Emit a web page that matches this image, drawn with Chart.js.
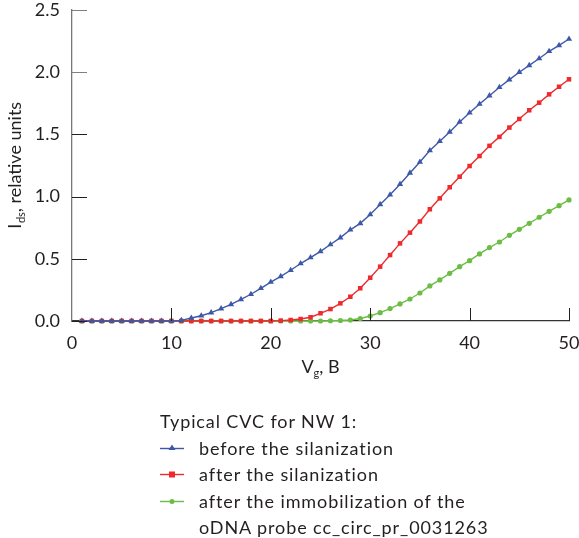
<!DOCTYPE html>
<html><head><meta charset="utf-8">
<script src="https://cdn.jsdelivr.net/npm/chart.js@4.4.1/dist/chart.umd.min.js"></script>
<style>
html,body{margin:0;padding:0;background:#fff;}
#wrap{position:relative;width:579px;height:538px;}
#c{position:absolute;left:0;top:0;}
#legend{position:absolute;left:160px;top:408px;font-family:Lato,sans-serif;font-size:18px;letter-spacing:0.9px;color:#231f20;line-height:26.5px;}
#legend .row{position:relative;padding-left:39px;white-space:nowrap;}
#legend .title{padding-left:0;}
#legend svg{position:absolute;left:0;top:6px;}
</style>
</head><body>
<div id="wrap">
<canvas id="c" width="579" height="538"></canvas>
<div id="legend"></div>
</div>
<script>
const vgValues = [1,2,3,4,5,6,7,8,9,10,11,12,13,14,15,16,17,18,19,20,21,22,23,24,25,26,27,28,29,30,31,32,33,34,35,36,37,38,39,40,41,42,43,44,45,46,47,48,49,50];
const beforeSilanization = [0,0,0,0,0,0,0,0,0,0,0.005,0.024,0.042,0.067,0.099,0.134,0.174,0.215,0.263,0.313,0.359,0.408,0.462,0.51,0.56,0.615,0.67,0.733,0.785,0.856,0.937,1.015,1.10,1.19,1.278,1.37,1.445,1.52,1.60,1.674,1.744,1.811,1.879,1.94,2.0,2.055,2.11,2.168,2.216,2.267];
const afterSilanization = [0,0,0,0,0,0,0,0,0,0,0,0,0,0,0,0,0,0,0,0,0.003,0.008,0.016,0.03,0.062,0.096,0.142,0.195,0.263,0.348,0.437,0.53,0.624,0.71,0.80,0.898,0.986,1.075,1.16,1.246,1.326,1.408,1.48,1.555,1.624,1.694,1.755,1.822,1.883,1.943];
const afterImmobilization = [0,0,0,0,0,0,0,0,0,0,0,0,0,0,0,0,0,0,0,0,0,0,0,0,0,0.002,0.004,0.008,0.02,0.04,0.067,0.10,0.137,0.177,0.225,0.282,0.33,0.383,0.437,0.485,0.539,0.59,0.635,0.689,0.737,0.785,0.834,0.882,0.927,0.973];
const xTicks = [0,10,20,30,40,50];
const yTicks = [0,0.5,1.0,1.5,2.0,2.5];
const legendTitle = "Typical CVC for NW 1:";
const seriesNames = ["before the silanization","after the silanization","after the immobilization of the\noDNA probe cc_circ_pr_0031263"];
const seriesColors = ["#3d58a7","#ee2a2e","#6cbd45"];
const seriesMarkers = ["triangle","rect","circle"];
const seriesSizes = [3.6,3.2,2.6];
const seriesData = [beforeSilanization, afterSilanization, afterImmobilization];

const FONT = "Lato, sans-serif";

const datasets = seriesData.map((arr,i)=>({
  label: seriesNames[i],
  data: vgValues.map((x,j)=>({x:x,y:arr[j]})),
  borderColor: seriesColors[i],
  backgroundColor: seriesColors[i],
  borderWidth: 1.4,
  pointStyle: seriesMarkers[i],
  pointRadius: seriesSizes[i],
  pointBorderWidth: 0,
  tension: 0,
  clip: false
}));

const customDraw = {
  id:'customDraw',
  afterDraw(chart){
    const ctx = chart.ctx;
    const xs = chart.scales.x, ys = chart.scales.y;
    const area = chart.chartArea;
    ctx.save();
    yTicks.forEach(v=>{
      const py = Math.round(ys.getPixelForValue(v))+0.5;
      ctx.strokeStyle = v>=2 ? '#808080' : '#231f20';
      ctx.lineWidth = 1;
      ctx.beginPath(); ctx.moveTo(area.left, py); ctx.lineTo(area.left+15, py); ctx.stroke();
    });
    xTicks.forEach(v=>{
      if (v===0) return;
      const px = Math.round(xs.getPixelForValue(v))+0.5;
      ctx.strokeStyle = '#231f20';
      ctx.lineWidth = 1;
      ctx.beginPath(); ctx.moveTo(px, area.bottom); ctx.lineTo(px, area.bottom-13); ctx.stroke();
    });
    ctx.fillStyle = '#231f20';
    ctx.textBaseline = 'alphabetic';
    const cx = (area.left+area.right)/2;
    const bY = 373;
    ctx.font = '18px '+FONT;
    const wV = ctx.measureText('V').width;
    ctx.font = '11px '+FONT;
    const wg = ctx.measureText('g').width;
    ctx.font = '18px '+FONT;
    const wR = ctx.measureText(', B').width;
    let sx = cx - (wV+wg+wR)/2;
    ctx.textAlign='left';
    ctx.fillText('V', sx, bY);
    ctx.font = '11px '+FONT;
    ctx.fillText('g', sx+wV, bY+4);
    ctx.font = '18px '+FONT;
    ctx.fillText(', B', sx+wV+wg, bY);
    const cy = (area.top+area.bottom)/2;
    ctx.translate(21, cy);
    ctx.rotate(-Math.PI/2);
    ctx.font = '18px '+FONT;
    const wI = ctx.measureText('I').width;
    ctx.font = '11px '+FONT;
    const wds = ctx.measureText('ds').width;
    ctx.font = '18px '+FONT;
    const wRest = ctx.measureText(', relative units').width;
    let tx = -(wI+wds+wRest)/2;
    ctx.fillText('I', tx, 0);
    ctx.font = '11px '+FONT;
    ctx.fillText('ds', tx+wI+0.5, 4);
    ctx.font = '18px '+FONT;
    ctx.fillText(', relative units', tx+wI+wds+0.5, 0);
    ctx.restore();
  }
};

new Chart(document.getElementById('c'), {
  type:'line',
  data:{datasets},
  options:{
    responsive:false,
    animation:false,
    devicePixelRatio:1,
    layout:{padding:{left:0,top:10,right:10,bottom:0}},
    plugins:{legend:{display:false},tooltip:{enabled:false}},
    scales:{
      x:{
        type:'linear', min:0, max:50,
        afterBuildTicks(s){ s.ticks = xTicks.map(v=>({value:v})); },
        afterFit(s){ s.height = 538-321; s.paddingLeft = 0; s.paddingRight = 0; },
        grid:{display:true,drawOnChartArea:false,drawTicks:false},
        border:{color:'#333',width:1.3},
        ticks:{padding:11,color:'#231f20',font:{family:FONT,size:18},maxRotation:0}
      },
      y:{
        type:'linear', min:0, max:2.5,
        afterBuildTicks(s){ s.ticks = yTicks.map(v=>({value:v})); },
        afterFit(s){ s.width = 72; s.paddingTop = 0; s.paddingBottom = 0; },
        grid:{display:true,drawOnChartArea:false,drawTicks:false},
        border:{color:'#777',width:1.3},
        ticks:{padding:12,color:'#231f20',font:{family:FONT,size:18},callback:v=>Number(v).toFixed(1)}
      }
    }
  },
  plugins:[customDraw]
});

const lg = document.getElementById('legend');
const t = document.createElement('div'); t.className='row title'; t.textContent = legendTitle; lg.appendChild(t);
seriesNames.forEach((name,i)=>{
  name.split('\n').forEach((line,k)=>{
    const r = document.createElement('div'); r.className='row';
    if(k===0){
      const c = seriesColors[i];
      let mk='';
      if(seriesMarkers[i]==='triangle') mk=`<polygon points="12,3.5 15.5,9 8.5,9" fill="${c}"/>`;
      else if(seriesMarkers[i]==='rect') mk=`<rect x="9" y="4.5" width="6" height="6" fill="${c}"/>`;
      else mk=`<circle cx="12" cy="7.5" r="2.5" fill="${c}"/>`;
      r.innerHTML = `<svg width="24" height="15"><line x1="0" y1="7.5" x2="24" y2="7.5" stroke="${c}" stroke-width="1.4"/>${mk}</svg>`;
    }
    const s = document.createElement('span'); s.textContent=line; r.appendChild(s);
    lg.appendChild(r);
  });
});
</script>
</body></html>
